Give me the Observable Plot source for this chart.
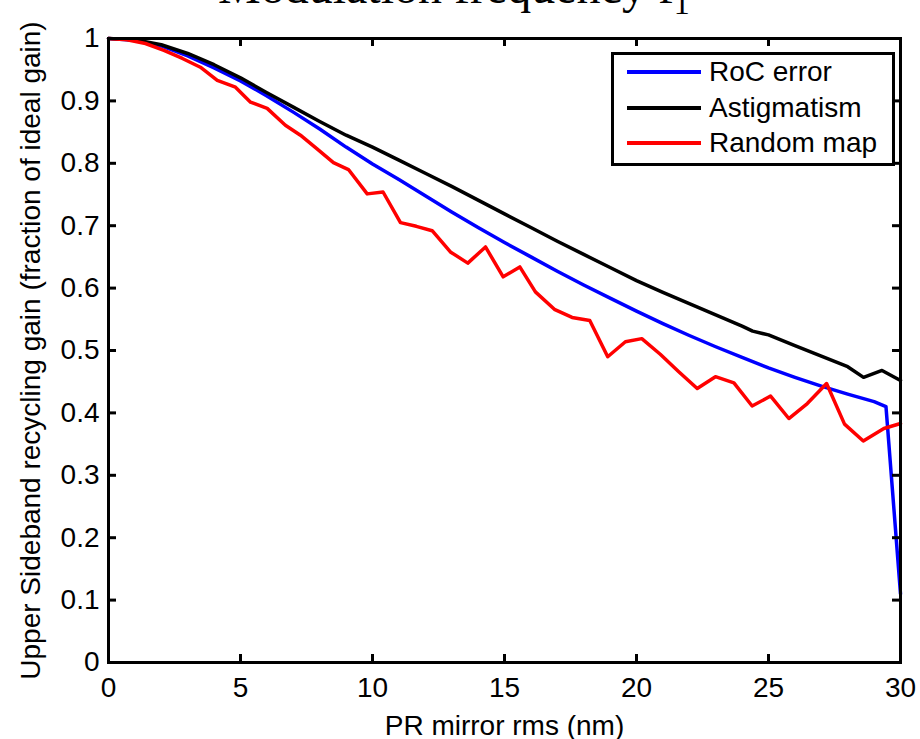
<!DOCTYPE html>
<html><head><meta charset="utf-8">
<script src="https://cdn.jsdelivr.net/npm/d3@7"></script>
<script src="https://cdn.jsdelivr.net/npm/@observablehq/plot@0.6"></script>
<style>
body{margin:0;background:#fff;overflow:hidden}
#wrap{position:relative;width:920px;height:739px;overflow:hidden}
#title{position:absolute;left:218px;top:-37px;font:48px/48px "Liberation Serif","Times New Roman",serif;white-space:nowrap;color:#000}
#legend{position:absolute;left:611px;top:52px;width:278px;height:108px;border:3px solid #000;background:#fff;font:28px "Liberation Sans",Arial,sans-serif;color:#000}
.row{position:absolute;left:13px;height:32px;display:flex;align-items:center;white-space:nowrap}
.sw{width:74px;height:4px;margin-right:8px}
</style></head>
<body>
<div id="wrap">
<div id="title">Modulation frequency f<sub style="font-size:32px">1</sub></div>
<div id="chart"></div>
<div id="legend"></div>
</div>
<script>
// x ticks / y ticks
const xTicks = [0,5,10,15,20,25,30];
const yTicks = [0,0.1,0.2,0.3,0.4,0.5,0.6,0.7,0.8,0.9,1];

// RoC error (blue)
const rocX = [0,1,2,3,4,5,6,7,8,9,10,11,12,13,14,15,16,17,18,19,20,21,22,23,24,25,26,27,28,29,29.45,30];
const rocY = [1.000,0.997,0.988,0.972,0.953,0.932,0.908,0.882,0.855,0.826,0.799,0.774,0.748,0.722,0.697,0.673,0.650,0.627,0.605,0.584,0.563,0.543,0.524,0.506,0.489,0.472,0.457,0.443,0.430,0.418,0.410,0.110];

// Astigmatism (black)
const astX = [0,1,2,3,4,5,6,7,8,9,10,11,12,13,14,15,16,17,18,19,20,21,22,23,24,24.4,25,26,27,28,28.6,29.3,30];
const astY = [1.000,0.998,0.990,0.976,0.958,0.937,0.913,0.890,0.867,0.845,0.826,0.805,0.784,0.763,0.741,0.719,0.697,0.675,0.654,0.633,0.612,0.593,0.575,0.557,0.539,0.531,0.525,0.508,0.491,0.474,0.457,0.468,0.452];

// Random map (red)
const mapX = [0,0.7,1.4,2.1,2.8,3.48,4.12,4.81,5.38,6.01,6.70,7.27,7.9,8.52,9.09,9.80,10.40,11.06,11.66,12.26,12.95,13.61,14.28,14.95,15.58,16.17,16.89,17.56,18.23,18.91,19.58,20.2,20.9,21.6,22.30,22.99,23.69,24.38,25.08,25.77,26.47,27.20,27.88,28.59,29.37,30];
const mapY = [1.000,0.998,0.992,0.981,0.968,0.954,0.933,0.922,0.898,0.888,0.861,0.845,0.823,0.801,0.790,0.751,0.754,0.705,0.699,0.692,0.658,0.640,0.666,0.618,0.634,0.594,0.566,0.553,0.548,0.490,0.514,0.519,0.494,0.466,0.439,0.458,0.448,0.411,0.427,0.391,0.415,0.447,0.382,0.355,0.375,0.383];

const seriesNames = ["RoC error","Astigmatism","Random map"];
const seriesColors = ["#0000ff","#000000","#ff0000"];

const toRows = (xs, ys) => xs.map((x, i) => ({x, y: ys[i]}));
const roc = toRows(rocX, rocY), ast = toRows(astX, astY), map = toRows(mapX, mapY);

const W = 920, H = 739, mL = 108, mR = 20, mT = 38, mB = 77;
const pw = W - mL - mR, ph = H - mT - mB, tk = 8;
const font = '"Liberation Sans", Arial, Helvetica, sans-serif';

const chart = Plot.plot({
  width: W, height: H,
  marginLeft: mL, marginRight: mR, marginTop: mT, marginBottom: mB,
  style: {fontFamily: font, fontSize: "28px", color: "#000", background: "#fff", overflow: "visible"},
  x: {domain: [0, 30]},
  y: {domain: [0, 1]},
  marks: [
    Plot.line(roc, {x: "x", y: "y", stroke: seriesColors[0], strokeWidth: 3.5}),
    Plot.line(ast, {x: "x", y: "y", stroke: seriesColors[1], strokeWidth: 3.5}),
    Plot.line(map, {x: "x", y: "y", stroke: seriesColors[2], strokeWidth: 3.5}),
    Plot.tickX(xTicks, {x: d => d, insetTop: ph - tk, stroke: "#000", strokeWidth: 3}),
    Plot.tickX(xTicks, {x: d => d, insetBottom: ph - tk, stroke: "#000", strokeWidth: 3}),
    Plot.tickY(yTicks, {y: d => d, insetRight: pw - tk, stroke: "#000", strokeWidth: 3}),
    Plot.tickY(yTicks, {y: d => d, insetLeft: pw - tk, stroke: "#000", strokeWidth: 3}),
    Plot.frame({stroke: "#000", strokeWidth: 3}),
    Plot.axisX(xTicks, {tickSize: 0, tickPadding: 15, fontSize: 28, label: "PR mirror rms (nm)", labelAnchor: "center", labelArrow: "none", labelOffset: 72}),
    Plot.axisY(yTicks, {tickSize: 0, tickPadding: 9, fontSize: 28, tickFormat: d => String(+d.toFixed(1)), label: "Upper Sideband recycling gain (fraction of ideal gain)", labelAnchor: "center", labelArrow: "none", labelOffset: 88})
  ]
});
document.getElementById("chart").appendChild(chart);

const legend = document.getElementById("legend");
const rowTops = [1, 37, 72];
seriesNames.forEach((name, i) => {
  const row = document.createElement("div");
  row.className = "row";
  row.style.top = rowTops[i] + "px";
  const sw = document.createElement("span");
  sw.className = "sw";
  sw.style.background = seriesColors[i];
  const t = document.createElement("span");
  t.textContent = name;
  row.appendChild(sw); row.appendChild(t);
  legend.appendChild(row);
});
</script>
</body></html>
